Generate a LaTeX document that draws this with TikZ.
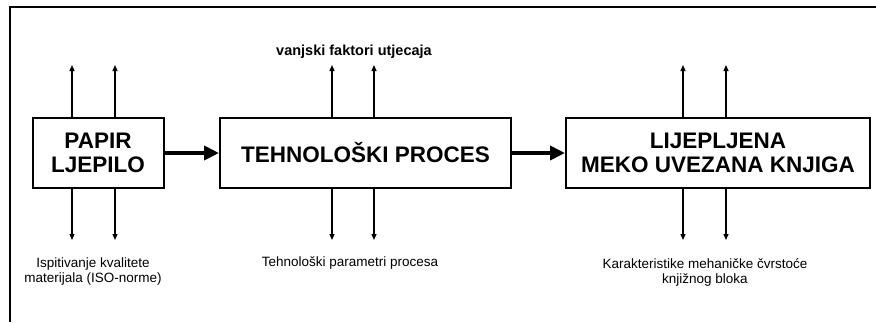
\documentclass[tikz,border=0pt]{standalone}
\usepackage{fontspec}
\setmainfont{Liberation Sans}
\usetikzlibrary{arrows.meta,positioning}

\begin{document}
\begin{tikzpicture}[x=1pt,y=-1pt,
  blok/.style={draw, line width=2pt, minimum height=70pt, align=center, inner sep=0pt,
    font=\bfseries\fontsize{22.5}{23.5}\selectfont},
  tok/.style={line width=1.3pt, -{Triangle[length=6pt,width=5pt]}},
  glavni/.style={line width=4.5pt, -{Triangle[length=15pt,width=14pt]}},
  opis/.style={align=center, font=\fontsize{13.5}{15}\selectfont}]
	\useasboundingbox (0,0) rectangle (876,322);

	% Okvir
	\draw[line width=2pt] (10,322) |- (876,7);

	% Blokovi
	\node[blok, minimum width=131pt] (papir) at (98,153) {PAPIR\\LJEPILO};
	\node[blok, minimum width=291pt] (proces) at (365.5,153) {TEHNOLOŠKI PROCES};
	\node[blok, minimum width=304pt] (knjiga) at (718,153) {LIJEPLJENA\\MEKO UVEZANA KNJIGA};

	% Glavni tok
	\draw[glavni] (papir.east) -- (proces.west);
	\draw[glavni] (proces.east) -- (knjiga.west);

	% Ulazi i izlazi (gore i dolje)
	\foreach \b/\x in {papir/72, papir/115, proces/332, proces/374, knjiga/683, knjiga/726} {
		\coordinate (\b-gore-\x) at (\x,65);
		\coordinate (\b-dolje-\x) at (\x,240);
		\draw[tok] (\b.north -| \b-gore-\x) -- (\b-gore-\x);
		\draw[tok] (\b.south -| \b-dolje-\x) -- (\b-dolje-\x);
	}

	% Opisi
	\node[opis, font=\bfseries\fontsize{14.5}{15}\selectfont] (vanjski) at (354,52) {vanjski faktori utjecaja};
	\node[opis] (ispit) at (93,272) {Ispitivanje kvalitete\\materijala (ISO-norme)};
	\node[opis] (param) at (350,263) {Tehnološki parametri procesa};
	\node[opis] (karakt) at (705,272) {Karakteristike mehaničke čvrstoće\\knjižnog bloka};

\end{tikzpicture}
\end{document}
